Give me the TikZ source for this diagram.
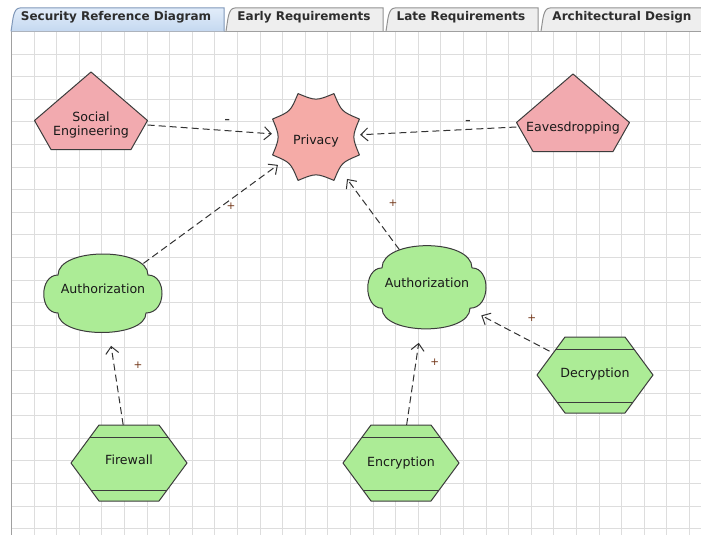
\documentclass[tikz,border=0pt]{standalone}
\usepackage{fontspec}
\setmainfont{DejaVu Sans}
\usetikzlibrary{arrows.meta,shapes.geometric}

\definecolor{gridgray}{RGB}{221,221,221}
\definecolor{pinkfill}{RGB}{242,170,175}
\definecolor{privfill}{RGB}{245,171,167}
\definecolor{greenfill}{RGB}{172,236,150}
\definecolor{outline}{RGB}{60,60,60}
\definecolor{linkcol}{RGB}{50,50,50}
\definecolor{signcol}{RGB}{115,55,25}
\definecolor{textcol}{RGB}{25,25,25}
\definecolor{tabseltop}{RGB}{226,237,250}
\definecolor{tabselbot}{RGB}{196,216,240}
\definecolor{tabselborder}{RGB}{128,152,185}
\definecolor{tabgray}{RGB}{238,238,238}
\definecolor{tabborder}{RGB}{145,145,145}
\definecolor{tabtext}{RGB}{45,45,45}
\definecolor{paneborder}{RGB}{160,160,160}

\tikzset{
  gridline/.style={draw=gridgray, line width=1pt},
  outlined/.style={draw=outline, line width=1pt, line join=round},
  softgoal/.style={outlined, fill=pinkfill},
  privgoal/.style={outlined, fill=privfill},
  goodgoal/.style={outlined, fill=greenfill},
  caption/.style={font=\fontsize{12.6}{13.8}\selectfont, text=textcol, align=center, inner sep=0pt},
  pentbox/.style={caption, rectangle, minimum width=113pt, minimum height=60pt},
  starbox/.style={caption, circle, minimum size=88pt},
  cloudbox/.style={caption, ellipse, minimum width=116pt, minimum height=80pt},
  hexbox/.style={caption, ellipse, minimum width=116pt, minimum height=76pt},
  link/.style={draw=linkcol, line width=1pt, dash pattern=on 7pt off 4pt,
    -{Straight Barb[length=7pt,width=13pt]}},
  sign/.style={font=\fontsize{10.5}{12}\selectfont, text=signcol, inner sep=0pt},
  negsign/.style={font=\fontsize{16}{16}\selectfont, text=linkcol, inner sep=0pt},
  tabtitle/.style={font=\fontsize{12}{14}\selectfont\bfseries, text=tabtext, inner sep=0pt, anchor=base},
  tabplain/.style={draw=tabborder, fill=tabgray, line width=1pt},
  tabactive/.style={draw=tabselborder, top color=tabseltop, bottom color=tabselbot, line width=1pt},
}

\begin{document}
\begin{tikzpicture}[x=1pt, y=-1pt]
\useasboundingbox (0,0) rectangle (701,535);
\fill[white] (0,0) rectangle (701,535);

% tab strip
\path[tabplain] (541,31) .. controls (543,20) and (543,8) .. (550,8) -- (706,8) -- (706,31);
\path[tabplain] (386,31) .. controls (388,20) and (388,8) .. (395,8) -- (538,8) -- (538,31);
\path[tabplain] (226,31) .. controls (228,20) and (228,8) .. (235,8) -- (383,8) -- (383,31);
\draw[paneborder, line width=1pt] (11,535) -- (11,31.5) -- (701,31.5);
\path[tabactive] (11,31.5) .. controls (13,20) and (13,8) .. (20,8) -- (224,8) -- (224,31.5);
\node[tabtitle] (tabsec) at (116,20.7) {Security Reference Diagram};
\node[tabtitle] (tabearly) at (304,20.7) {Early Requirements};
\node[tabtitle] (tablate) at (461,20.7) {Late Requirements};
\node[tabtitle] (tabarch) at (622,20.7) {Architectural Design};

% drawing canvas grid
\begin{scope}
  \clip (11.5,32) rectangle (701,535);
  \foreach \i in {1,...,30} \draw[gridline] ({11.5+22.6*\i},32) -- ++(0,504);
  \foreach \j in {1,...,22} \draw[gridline] (11.5,{31.5+22.6*\j}) -- ++(690,0);
\end{scope}

% threat pentagons
\begin{scope}[shift={(91,125)}]
  \draw[softgoal] (0,-53) -- (56.5,-4.5) -- (40,24.5) -- (-40,24.5) -- (-56.5,-4.5) -- cycle;
\end{scope}
\begin{scope}[shift={(573,127)}]
  \draw[softgoal] (0,-53) -- (56.5,-4.5) -- (40,24.5) -- (-40,24.5) -- (-56.5,-4.5) -- cycle;
\end{scope}

% security goal: octagon with concave sides
\begin{scope}[shift={(316,137)}]
  \draw[privgoal] (22.5:47)
    \foreach \a in {67.5,112.5,157.5,202.5,247.5,292.5,337.5,382.5} { .. controls ({\a-22.5}:36) .. (\a:47) } -- cycle;
\end{scope}

% clouds
\begin{scope}[shift={(103,293)}]
  \draw[goodgoal] (-45,-18) .. controls (-45,-46) and (45,-46) .. (45,-18)
    .. controls (64,-18) and (64,20) .. (43,20)
    .. controls (43,46) and (-45,46) .. (-45,20)
    .. controls (-64,20) and (-64,-18) .. (-45,-18) -- cycle;
\end{scope}
\begin{scope}[shift={(427,287)}, yscale=1.06]
  \draw[goodgoal] (-45,-18) .. controls (-45,-46) and (45,-46) .. (45,-18)
    .. controls (64,-18) and (64,20) .. (43,20)
    .. controls (43,46) and (-45,46) .. (-45,20)
    .. controls (-64,20) and (-64,-18) .. (-45,-18) -- cycle;
\end{scope}

% hexagonal mechanisms
\foreach \cx/\cy in {129/463, 401/463, 595/375} {
  \begin{scope}[shift={(\cx,\cy)}]
    \draw[goodgoal] (-58,0) -- (-30,-38) -- (30,-38) -- (58,0) -- (30,38) -- (-30,38) -- cycle;
    \draw[outlined] (-39,-26) -- (39,-26);
    \draw[outlined] (-38,27) -- (38,27);
  \end{scope}
}

% captions
\node[pentbox] (se) at (91,125) {Social\\Engineering};
\node[pentbox, text height=12pt, text depth=4pt] (eav) at (573,127) {Eavesdropping};
\node[starbox, text height=18pt, text depth=4pt] (priv) at (316,137) {Privacy};
\node[cloudbox, text height=4pt, text depth=4pt] (authL) at (103,293) {Authorization};
\node[cloudbox, minimum height=84pt, text height=4pt, text depth=4pt] (authR) at (427,287) {Authorization};
\node[hexbox, text height=6pt, text depth=4pt] (fw) at (129,463) {Firewall};
\node[hexbox, text height=10pt, text depth=4pt] (enc) at (401,463) {Encryption};
\node[hexbox, text height=8pt, text depth=4pt] (dec) at (595,375) {Decryption};

% contributions
\draw[link] (se.east) -- node[negsign, pos=0.64, yshift=9pt] {-} (priv);
\draw[link] (eav.west) -- node[negsign, pos=0.31, yshift=6.5pt] {-} (priv);
\draw[link, shorten >=3pt] (authL) -- node[sign, pos=0.64, yshift=-7pt] {+} (priv);
\draw[link, shorten >=8pt] (authR) -- node[sign, pos=0.6, xshift=28pt] {+} (priv);
\draw[link, shorten >=13pt] (fw) -- node[sign, pos=0.65, xshift=24pt] {+} (authL);
\draw[link, shorten >=14pt] (enc) -- node[sign, pos=0.65, xshift=19pt] {+} (authR);
\draw[link, shorten >=7pt] (dec) -- node[sign, pos=0.24, yshift=24pt] {+} (authR);
\end{tikzpicture}
\end{document}
